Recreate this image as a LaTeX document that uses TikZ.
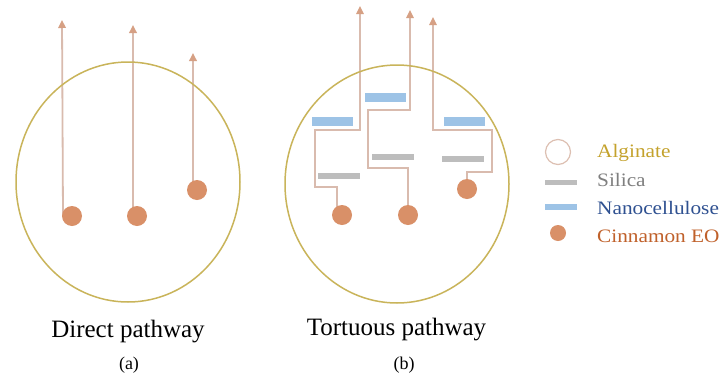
\documentclass[tikz,border=0pt]{standalone}
\usepackage{fontspec}
\setmainfont{Liberation Serif}
\usetikzlibrary{arrows.meta,calc}
\pgfdeclarelayer{background}
\pgfsetlayers{background,main}
\definecolor{alg}{HTML}{C9B45A}
\definecolor{pathc}{HTML}{D9BBAE}
\definecolor{tipc}{HTML}{D6A084}
\definecolor{dotc}{HTML}{D99068}
\definecolor{nanoc}{HTML}{9DC3E6}
\definecolor{silc}{HTML}{BDBDBD}
\definecolor{algtxt}{HTML}{C4A22C}
\definecolor{siltxt}{HTML}{7F7F7F}
\definecolor{nanotxt}{HTML}{2F5191}
\definecolor{cintxt}{HTML}{C0612B}
\definecolor{legcirc}{HTML}{DDC0B2}
\tikzset{
  bead/.style={draw=alg, line width=1.5pt},
  dotn/.style={circle, fill=dotc, draw=none, minimum size=20pt, inner sep=0pt},
  arr/.style={draw=pathc, line width=1.8pt, -{Triangle[length=8pt,width=7.5pt,color=tipc]}},
  nanobar/.style={fill=nanoc, draw=none, minimum width=41pt, minimum height=9pt, inner sep=0pt},
  silbar/.style={fill=silc, draw=none, minimum width=42pt, minimum height=6pt, inner sep=0pt},
  biglab/.style={font=\fontsize{25}{28}\selectfont, text=black, inner sep=0pt},
  smalllab/.style={font=\fontsize{18}{20}\selectfont, text=black, inner sep=0pt},
  legtxt/.style={font=\fontsize{19}{22}\selectfont, anchor=base west, inner sep=0pt},
}
\begin{document}
\begin{tikzpicture}[x=1pt,y=-1pt]
\begin{pgfonlayer}{background}
\fill[white] (0,0) rectangle (723,378);
\end{pgfonlayer}
\useasboundingbox (0,0) rectangle (723,378);

% ---------- (a) direct pathway ----------
\draw[bead] (128,182) ellipse [x radius=112, y radius=120];
\node[dotn] (a1) at (72,216) {};
\node[dotn] (a2) at (137,216) {};
\node[dotn] (a3) at (197,190) {};
\coordinate (ta1) at (62,20);
\coordinate (ta2) at (133,25);
\coordinate (ta3) at (193,53);
\begin{pgfonlayer}{background}
\draw[arr] ([xshift=-9pt]a1.center) -- (ta1);
\draw[arr] ([xshift=-4pt]a2.center) -- (ta2);
\draw[arr] ([xshift=-4pt]a3.center) -- (ta3);
\end{pgfonlayer}
\node[biglab, anchor=base] (labA) at (128,337) {Direct pathway};
\node[smalllab, anchor=base] (subA) at (129,369) {(a)};

% ---------- (b) tortuous pathway ----------
\draw[bead] (397,184) ellipse [x radius=112, y radius=119];
\node[nanobar] (n1) at (332.5,121.5) {};
\node[nanobar] (n2) at (385.5,97.5) {};
\node[nanobar] (n3) at (464,121.5) {};
\node[silbar] (s1) at (339,176) {};
\node[silbar] (s2) at (392.5,157) {};
\node[silbar] (s3) at (463,158.5) {};
\node[dotn] (b1) at (342,215) {};
\node[dotn] (b2) at (408,215) {};
\node[dotn] (b3) at (467,189) {};
\coordinate (tb1) at (360,6);
\coordinate (tb2) at (410,10);
\coordinate (tb3) at (433,17);
\begin{pgfonlayer}{background}
\draw[arr, line width=1.5pt] ([xshift=-5pt]b1.center) -- (337,187) -- (315,187) -- (315,130) -- (360,130) -- (tb1);
\draw[arr, line width=1.5pt] (b2.center) -- (408,168) -- (368,168) -- (368,110) -- (410,110) -- (tb2);
\draw[arr, line width=1.5pt] (b3.center) -- (467,172) -- (492,172) -- (492,130) -- (433,130) -- (tb3);
\end{pgfonlayer}
\node[biglab, anchor=base] (labB) at (396.5,335) {Tortuous pathway};
\node[smalllab, anchor=base] (subB) at (404,369) {(b)};

% ---------- legend ----------
\node[circle, draw=legcirc, line width=1.2pt, minimum size=25pt, inner sep=0pt] (lgA) at (558,152) {};
\node[fill=silc, minimum width=32pt, minimum height=5pt, inner sep=0pt] (lgS) at (561,182) {};
\node[fill=nanoc, minimum width=32pt, minimum height=6pt, inner sep=0pt] (lgN) at (561,207) {};
\node[circle, fill=dotc, minimum size=16pt, inner sep=0pt] (lgC) at (558,233) {};
\node[legtxt, text=algtxt] (tA) at (597,157) {\scalebox{1.12}[1]{Alginate}};
\node[legtxt, text=siltxt] (tS) at (597,186) {\scalebox{1.12}[1]{Silica}};
\node[legtxt, text=nanotxt] (tN) at (597,214) {\scalebox{1.12}[1]{Nanocellulose}};
\node[legtxt, text=cintxt] (tC) at (597,242) {\scalebox{1.12}[1]{Cinnamon EO}};
\end{tikzpicture}
\end{document}
